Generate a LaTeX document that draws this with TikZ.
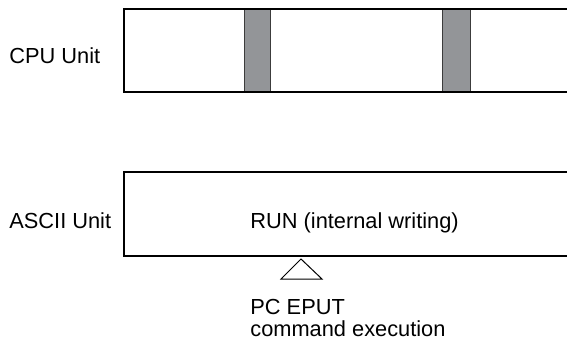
\documentclass[tikz,border=0pt]{standalone}
\usepackage{fontspec}
\setmainfont{Liberation Sans}
\usetikzlibrary{positioning}
\definecolor{busygray}{RGB}{147,149,152}
\definecolor{busyline}{RGB}{60,60,60}
\tikzset{
  unitbox/.style={line width=1pt,black},
  busybar/.style={fill=busygray,draw=busyline,line width=0.5pt},
  lbl/.style={inner sep=0pt,anchor=base west,font=\fontsize{10.9}{11}\selectfont,align=left}
}
\begin{document}
\begin{tikzpicture}[x=0.5pt,y=-0.5pt]
\useasboundingbox (0,0) rectangle (567,339);
% CPU Unit
\draw[busybar] (244,9) rectangle (270,92);
\draw[busybar] (442,9) rectangle (470,92);
\draw[unitbox] (568,9) -- (124,9) -- (124,92) -- (568,92);
\node[lbl] (cpu) at (9,63) {CPU Unit};
% ASCII Unit
\draw[unitbox] (568,172) -- (124,172) -- (124,256) -- (568,256);
\node[lbl] (ascii) at (9,228) {ASCII Unit};
\node[lbl] (run) at (250,228) {RUN (internal writing)};
% EPUT
\draw[line width=0.5pt] (281,279) -- (301,259) -- (322,279) -- cycle;
\node[lbl] (eput) at (250,336) {PC EPUT\\command execution};
\end{tikzpicture}
\end{document}
